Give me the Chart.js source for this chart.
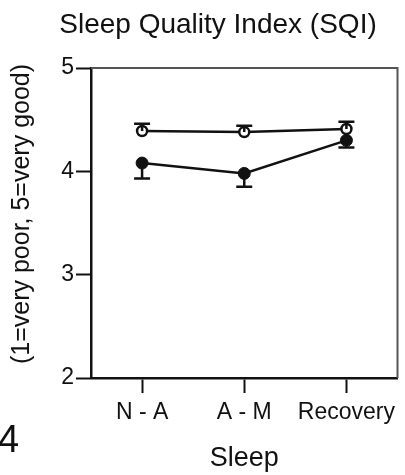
<!DOCTYPE html>
<html>
<head>
<meta charset="utf-8">
<script src="https://cdn.jsdelivr.net/npm/chart.js@4.4.0/dist/chart.umd.min.js"></script>
<style>
  html, body { margin: 0; padding: 0; background: #fff; }
  #wrap { width: 405px; height: 475px; }
</style>
</head>
<body>
<div id="wrap"><canvas id="sqi"></canvas></div>
<script>
// data
var categories = ["N - A", "A - M", "Recovery"];
var openVals = [4.39, 4.38, 4.41];      // open circles
var openErrUp = [0.07, 0.06, 0.07];
var filledVals = [4.08, 3.98, 4.30];    // filled circles
var filledErrDown = [0.15, 0.13, 0.07];
var yTicks = [2, 3, 4, 5];

var FONT = "'Liberation Sans', Arial, Helvetica, sans-serif";
var INK = "#111";

// error bars, drawn from the dataset values through the y scale
var errorBars = {
  id: 'errorBars',
  afterDatasetsDraw: function(chart){
    var ctx = chart.ctx;
    var y = chart.scales.y;
    chart.data.datasets.forEach(function(ds, i){
      var meta = chart.getDatasetMeta(i);
      meta.data.forEach(function(pt, j){
        var v = ds.data[j];
        var end = null;
        if(ds.errUp) end = v + ds.errUp[j];
        if(ds.errDown) end = v - ds.errDown[j];
        if(end === null) return;
        var py = y.getPixelForValue(end);
        ctx.save();
        ctx.strokeStyle = INK;
        ctx.lineWidth = 2.5;
        ctx.beginPath();
        ctx.moveTo(pt.x, pt.y);
        ctx.lineTo(pt.x, py);
        ctx.moveTo(pt.x - 8, py);
        ctx.lineTo(pt.x + 8, py);
        ctx.stroke();
        ctx.restore();
      });
    });
  }
};

// top/right frame of the plot box, heading, y title and the panel number
var frame = {
  id: 'frame',
  beforeDatasetsDraw: function(chart){
    var a = chart.chartArea, ctx = chart.ctx;
    ctx.save();
    ctx.strokeStyle = "#555";
    ctx.lineWidth = 2;
    ctx.beginPath();
    ctx.moveTo(a.left, a.top);
    ctx.lineTo(a.right, a.top);
    ctx.lineTo(a.right, a.bottom);
    ctx.stroke();
    ctx.restore();
  },
  afterDraw: function(chart){
    var ctx = chart.ctx;
    ctx.save();
    ctx.fillStyle = INK;
    ctx.textAlign = "center";
    ctx.textBaseline = "alphabetic";
    ctx.font = "28px " + FONT;
    ctx.fillText("Sleep Quality Index (SQI)", 218, 33);
    // y axis title, rotated
    ctx.save();
    ctx.translate(22, 214);
    ctx.rotate(-Math.PI / 2);
    ctx.textBaseline = "middle";
    ctx.font = "25px " + FONT;
    ctx.fillText("(1=very poor, 5=very good)", 0, 0);
    ctx.restore();
    ctx.textAlign = "left";
    ctx.font = "38px " + FONT;
    ctx.fillText("4", -2, 452);
    ctx.restore();
  }
};

new Chart(document.getElementById('sqi'), {
  type: 'line',
  data: {
    labels: categories,
    datasets: [
      {
        data: filledVals,
        errDown: filledErrDown,
        borderColor: INK,
        borderWidth: 2.5,
        pointRadius: 6,
        pointBackgroundColor: INK,
        pointBorderColor: INK,
        pointBorderWidth: 1,
        tension: 0
      },
      {
        data: openVals,
        errUp: openErrUp,
        borderColor: INK,
        borderWidth: 2.5,
        pointRadius: 5,
        pointBackgroundColor: "#fff",
        pointBorderColor: INK,
        pointBorderWidth: 2.5,
        tension: 0
      }
    ]
  },
  options: {
    responsive: true,
    maintainAspectRatio: false,
    animation: false,
    layout: { padding: { left: 0, right: 7, top: 68, bottom: 0 } },
    plugins: {
      legend: { display: false },
      tooltip: { enabled: false },
      title: { display: false }
    },
    scales: {
      x: {
        type: 'category',
        offset: true,
        afterFit: function(s){ s.height = 97; },
        grid: { display: true, drawOnChartArea: false, drawTicks: true, tickLength: 15, tickWidth: 2, tickColor: INK, offset: false },
        border: { display: true, color: INK, width: 2.5 },
        ticks: { color: INK, padding: 6, maxRotation: 0, font: { family: FONT, size: 23 } },
        title: { display: true, text: "Sleep", color: INK, padding: { top: 0, bottom: 0 }, font: { family: FONT, size: 27, lineHeight: 1.2 } }
      },
      y: {
        min: 2,
        max: 5,
        afterFit: function(s){ s.width = 91; },
        afterBuildTicks: function(s){ s.ticks = yTicks.map(function(v){ return { value: v }; }); },
        grid: { display: true, drawOnChartArea: false, drawTicks: true, tickLength: 15, tickWidth: 2, tickColor: INK },
        border: { display: true, color: INK, width: 2.5 },
        ticks: { color: INK, padding: 2, font: { family: FONT, size: 23 } },
        title: { display: false }
      }
    }
  },
  plugins: [frame, errorBars]
});
</script>
</body>
</html>
